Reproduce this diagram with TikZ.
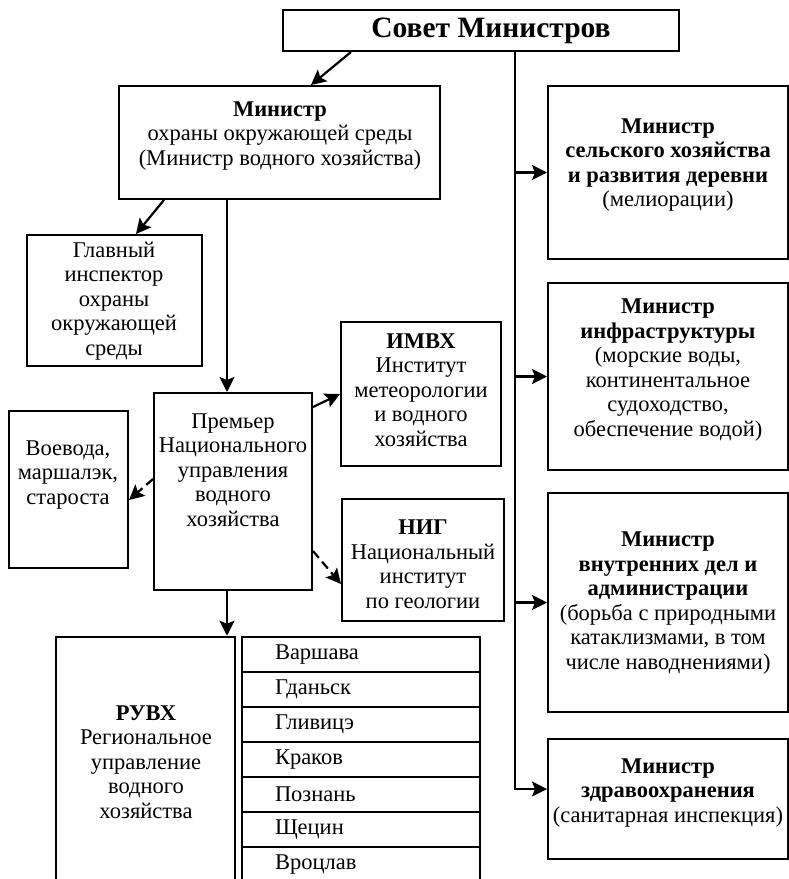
\documentclass[tikz,border=0pt]{standalone}
\usepackage{fontspec}
\setmainfont{Liberation Serif}
\usetikzlibrary{calc, positioning, arrows.meta}

\begin{document}
\begin{tikzpicture}[x=1pt, y=-1pt,
        frame/.style={draw, line width=2pt, inner sep=0pt},
        txt/.style={align=center, inner sep=0pt, font=\fontsize{22.5}{24.5}\selectfont},
        cell/.style={frame, line width=2.5pt, minimum width=238pt, minimum height=35pt, text width=172pt, align=left, inner xsep=33pt, font=\fontsize{22.5}{24.5}\selectfont},
        arr/.style={line width=2.2pt, -{Stealth[length=15pt, width=15pt, inset=3pt]}},
        darr/.style={arr, dash pattern=on 9pt off 5pt}]
    \clip (0,0) rectangle (789,879);

    % Frames of the boxes
    \node[frame, minimum width=396pt, minimum height=41pt] (soviet) at (481,30.5) {};
    \node[frame, minimum width=321pt, minimum height=113pt] (minenv) at (279.5,142.5) {};
    \node[frame, minimum width=240pt, minimum height=173pt] (agri) at (668,172.5) {};
    \node[frame, minimum width=240pt, minimum height=187pt] (infra) at (668,376.5) {};
    \node[frame, minimum width=240pt, minimum height=219pt] (interior) at (668,602.5) {};
    \node[frame, minimum width=240pt, minimum height=120pt] (health) at (668,799) {};
    \node[frame, minimum width=175pt, minimum height=131pt] (insp) at (114.5,300.5) {};
    \node[frame, minimum width=158pt, minimum height=197pt] (premier) at (233,491.5) {};
    \node[frame, minimum width=119pt, minimum height=157pt] (voev) at (68.5,489.5) {};
    \node[frame, minimum width=160pt, minimum height=144pt] (imvh) at (421,394) {};
    \node[frame, minimum width=162pt, minimum height=122pt] (nig) at (423,560) {};
    \node[frame, line width=2.5pt, minimum width=179pt, minimum height=263pt] (ruvh) at (145.5,768.5) {};

    % Texts of the boxes
    \node[txt, font=\fontsize{29.5}{32}\selectfont\bfseries] (soviet-t) at (491,31) {Совет Министров};
    \node[txt] (minenv-t) at (280,136) {\textbf{Министр}\\охраны окружающей среды\\(Министр водного хозяйства)};
    \node[txt] (agri-t) at (668,165) {\textbf{Министр}\\\textbf{сельского хозяйства}\\\textbf{и развития деревни}\\(мелиорации)};
    \node[txt] (infra-t) at (668,370) {\textbf{Министр}\\\textbf{инфраструктуры}\\(морские воды,\\континентальное\\судоходство,\\обеспечение водой)};
    \node[txt] (interior-t) at (668,603) {\textbf{Министр}\\\textbf{внутренних дел и}\\\textbf{администрации}\\(борьба с природными\\катаклизмами, в том\\числе наводнениями)};
    \node[txt] (health-t) at (668,793) {\textbf{Министр}\\\textbf{здравоохранения}\\(санитарная инспекция)};
    \node[txt] (insp-t) at (114,301) {Главный\\инспектор\\охраны\\окружающей\\среды};
    \node[txt] (premier-t) at (233,470) {Премьер\\Национального\\управления\\водного\\хозяйства};
    \node[txt] (voev-t) at (68,475) {Воевода,\\маршалэк,\\староста};
    \node[txt] (imvh-t) at (421,390) {\textbf{ИМВХ}\\Институт\\метеорологии\\и водного\\хозяйства};
    \node[txt] (nig-t) at (423,564) {\textbf{НИГ}\\Национальный\\институт\\по геологии};
    \node[txt] (ruvh-t) at (146,762) {\textbf{РУВХ}\\Региональное\\управление\\водного\\хозяйства};

    % Add the list of the regions
    \foreach \name [count=\i] in {Варшава, Гданьск, Гливицэ, Краков, Познань, Щецин, Вроцлав} {
            \node[cell] (city\i) at (361,619.5+35*\i) {\name};
        }

    % Add the arrows from the Council
    \draw[arr] ([xshift=69pt]soviet.south west) -- ([xshift=193pt]minenv.north west);
    \coordinate (trunk) at ([xshift=233pt]soviet.south west);
    \draw[arr] (trunk) |- ([yshift=10pt]health.west);
    \draw[arr] (trunk |- agri.west) -- (agri.west);
    \draw[arr] (trunk |- infra.west) -- (infra.west);
    \draw[arr] (trunk |- interior.west) -- (interior.west);

    % Add the arrows below the minister
    \coordinate (spine) at ([xshift=-6pt]premier.north);
    \draw[arr] ([xshift=46pt]minenv.south west) -- ([xshift=110pt]insp.north west);
    \draw[arr] (minenv.south -| spine) -- (spine);
    \draw[arr] ([xshift=-6pt]premier.south) -- ([xshift=-6pt]premier.south |- ruvh.north);
    \draw[arr] ([yshift=-15pt]premier.north east) -- ([yshift=-73pt]imvh.north west);
    \draw[darr] ([yshift=-87pt]premier.north west) -- ([yshift=-90pt]voev.north east);
    \draw[darr] ([yshift=40pt]premier.south east) -- ([yshift=-86pt]nig.north west);
\end{tikzpicture}
\end{document}
